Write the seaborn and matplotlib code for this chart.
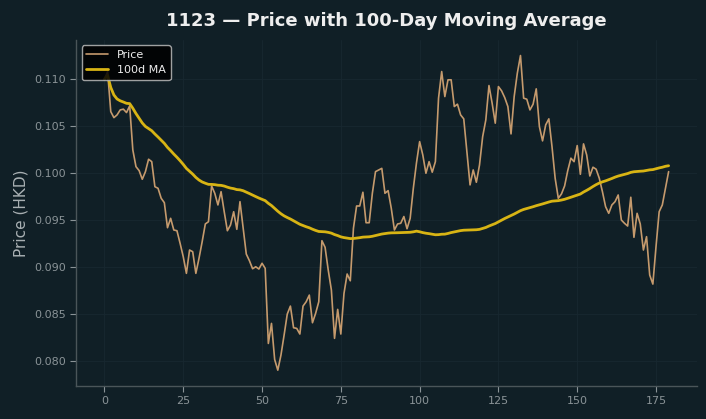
import numpy as np
import pandas as pd
import matplotlib
matplotlib.use("Agg")
import matplotlib.pyplot as plt
import seaborn as sns

title = "1123 \u2014 Price with 100-Day Moving Average"
ylabel = "Price (HKD)"
price_label = "Price"
ma_label = "100d MA"
ma_window = 100

price = [
    0.1100, 0.1108, 0.10655, 0.10591, 0.10620, 0.10673, 0.10681, 0.10645, 0.10716, 0.10248,
    0.10070, 0.10028, 0.09936, 0.10017, 0.10149, 0.10123, 0.09857, 0.09840, 0.09734, 0.09687,
    0.09421, 0.09521, 0.09397, 0.09389, 0.09255, 0.09113, 0.08936, 0.09184, 0.09166, 0.08936,
    0.09096, 0.09272, 0.09461, 0.09485, 0.09865, 0.09787, 0.09663, 0.09804, 0.09591, 0.09389,
    0.09450, 0.09591, 0.09404, 0.09698, 0.09415, 0.09141, 0.09070, 0.08985, 0.09006, 0.08982,
    0.09043, 0.08989, 0.08191, 0.08404, 0.08021, 0.07907, 0.08067, 0.08280, 0.08503, 0.08588,
    0.08358, 0.08351, 0.08291, 0.08588, 0.08634, 0.08705, 0.08411, 0.08511, 0.08634, 0.09283,
    0.09213, 0.08971, 0.08759, 0.08245, 0.08553, 0.08291, 0.08723, 0.08929, 0.08857, 0.09415,
    0.09652, 0.09652, 0.09798, 0.09474, 0.09474, 0.09787, 0.10017, 0.10035, 0.10052, 0.09787,
    0.09815, 0.09628, 0.09397, 0.09461, 0.09468, 0.09540, 0.09410, 0.09521, 0.09840, 0.10110,
    0.10336, 0.10195, 0.10000, 0.10123, 0.10011, 0.10123, 0.10798, 0.11081, 0.10815, 0.10993,
    0.10993, 0.10709, 0.10734, 0.10620, 0.10578, 0.10230, 0.09876, 0.10035, 0.09904, 0.10088,
    0.10389, 0.10567, 0.10932, 0.10745, 0.10532, 0.10921, 0.10876, 0.10804, 0.10709, 0.10418,
    0.10815, 0.11064, 0.11251, 0.10798, 0.10787, 0.10673, 0.10734, 0.10897, 0.10496, 0.10344,
    0.10514, 0.10578, 0.10283, 0.09947, 0.09734, 0.09780, 0.09865, 0.10028, 0.10160, 0.10123,
    0.10294, 0.09989, 0.10312, 0.10195, 0.09971, 0.10064, 0.10043, 0.09947, 0.09804, 0.09645,
    0.09574, 0.09663, 0.09698, 0.09769, 0.09503, 0.09468, 0.09439, 0.09745, 0.09319, 0.09574,
    0.09461, 0.09184, 0.09326, 0.08918, 0.08822, 0.09219, 0.09591, 0.09663, 0.09840, 0.10017,
]
days = list(range(len(price)))

df = pd.DataFrame({"day": days, "price": price})
df["ma"] = df["price"].rolling(ma_window, min_periods=1).mean()

BG = "#101f26"
sns.set_theme(style="dark", rc={
    "figure.facecolor": BG,
    "axes.facecolor": BG,
    "axes.edgecolor": "#4a5559",
    "axes.grid": True,
    "grid.color": "#182830",
    "grid.linewidth": 0.6,
    "xtick.color": "#8a9397",
    "ytick.color": "#8a9397",
    "xtick.bottom": True,
    "ytick.left": True,
    "axes.labelcolor": "#a9b0b3",
    "text.color": "#eeeeee",
})
plt.rcParams["font.family"] = ["DejaVu Sans"]

fig = plt.figure(figsize=(7.06, 4.19), dpi=100)
ax = fig.add_axes([0.108, 0.079, 0.879, 0.826])

sns.lineplot(data=df, x="day", y="price", ax=ax, color="#c59a6d", linewidth=1.2, label=price_label)
sns.lineplot(data=df, x="day", y="ma", ax=ax, color="#d8b414", linewidth=2.0, label=ma_label)

ax.set_title(title, fontsize=13, fontweight="bold", color="#eeeeee", pad=10)
ax.set_xlabel("")
ax.set_ylabel(ylabel, fontsize=11)
ax.tick_params(axis="both", labelsize=8, length=4, width=0.8, colors="#8a9397")
ax.yaxis.set_major_formatter(matplotlib.ticker.FormatStrFormatter("%.3f"))
for s in ["top", "right"]:
    ax.spines[s].set_visible(False)
for s in ["left", "bottom"]:
    ax.spines[s].set_color("#4a5559")
    ax.spines[s].set_linewidth(1.0)

leg = ax.legend(loc="upper left", fontsize=8, facecolor="#000000", edgecolor="#bbbbbb",
                framealpha=0.85, labelcolor="#eeeeee")
leg.get_frame().set_linewidth(1.0)

fig.savefig("out.png", dpi=100, facecolor=BG)
